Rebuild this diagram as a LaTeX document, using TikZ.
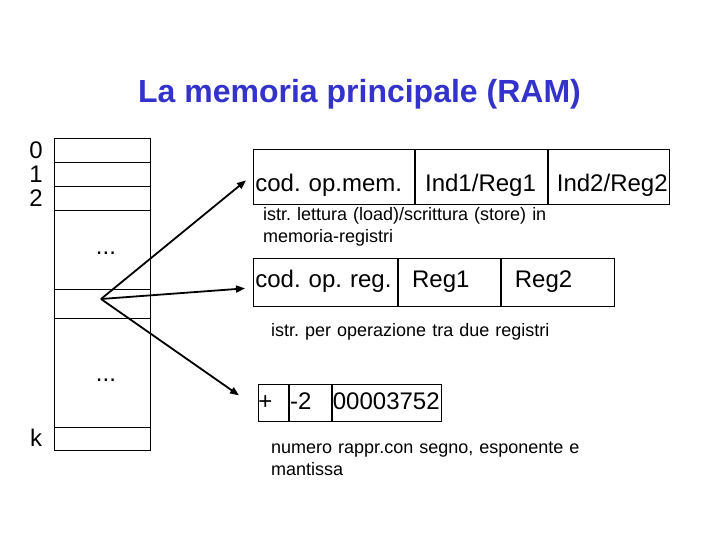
\documentclass[tikz,border=0pt]{standalone}
\usepackage{fontspec}
\setmainfont{Liberation Sans}
\usepackage{xcolor}
\usetikzlibrary{arrows.meta,positioning}
\definecolor{titleblue}{RGB}{51,51,204}
\newcommand{\bigtext}{\fontsize{24bp}{28bp}\selectfont\frenchspacing}
\newcommand{\smalltext}{\fontsize{18bp}{22bp}\selectfont\frenchspacing}
\tikzset{
	field/.style={draw, line width=0.75bp, inner sep=0pt, align=left, font=\bigtext},
	memfield/.style={field, text height=42bp, text depth=13bp},
	regfield/.style={field, text height=29bp, text depth=19bp},
	numfield/.style={field, text height=25bp, text depth=12bp},
	caption/.style={anchor=base west, inner sep=0pt, align=left, text width=330bp, font=\smalltext},
	cellnum/.style={anchor=base, inner sep=0pt, font=\bigtext},
	pointer/.style={-{Triangle[length=9bp,width=7bp]}, line width=1.8bp},
}

\begin{document}
\begin{tikzpicture}[x=1bp,y=-1bp]
		\useasboundingbox (0,0) rectangle (720,540);
		\node (title) [anchor=base, inner sep=0pt, font=\fontsize{32bp}{38bp}\selectfont\bfseries, text=titleblue] at (359.5,103) {La memoria principale (RAM)};
		% memoria
		\draw[line width=0.75bp] (54,138) rectangle (150,450);
		\foreach \y in {162,186,210,289,318,427}
			\draw[line width=0.75bp] (54,\y) -- (150,\y);
		\node (n0) [cellnum] at (36,159) {0};
		\node (n1) [cellnum] at (36,182.7) {1};
		\node (n2) [cellnum] at (36,206.7) {2};
		\node (nk) [cellnum] at (36,446.7) {k};
		\node (dots1) [cellnum] at (106,255) {...};
		\node (dots2) [cellnum] at (106,381) {...};
		\coordinate (src) at (101,299);
		% istruzione memoria-registri
		\node (f11) [memfield, text width=161bp, anchor=north west] at (253,149) {\hspace*{2bp}cod. op.mem.};
		\node (f12) [memfield, text width=132bp, right=0pt of f11] {\hspace*{10bp}Ind1/Reg1};
		\node (f13) [memfield, text width=121bp, right=0pt of f12] {\hspace*{9bp}Ind2/Reg2};
		\node (c1) [caption] at (263,221) {istr. lettura (load)/scrittura (store) in\\memoria-registri};
		% istruzione tra registri
		\node (f21) [regfield, text width=144bp, anchor=north west] at (253,258) {\hspace*{2bp}cod. op. reg.};
		\node (f22) [regfield, text width=102bp, right=0pt of f21] {\hspace*{14bp}Reg1};
		\node (f23) [regfield, text width=113bp, right=0pt of f22] {\hspace*{14bp}Reg2};
		\node (c2) [caption] at (271,336.5) {istr. per operazione tra due registri};
		% numero
		\node (f31) [numfield, text width=30bp, anchor=north west] at (258,384) {+};
		\node (f32) [numfield, text width=42bp, right=0pt of f31] {\hspace*{1bp}-2};
		\node (f33) [numfield, text width=109bp, right=0pt of f32] {\hspace*{1bp}00003752};
		\node (c3) [caption] at (271,453.3) {numero rappr.con segno, esponente e\\mantissa};
		\draw[pointer] (src) -- ([shift={(-7,3.5)}]f11.west);
		\draw[pointer] (src) -- ([shift={(-8,6)}]f21.west);
		\draw[pointer] (src) -- ([shift={(-19,-7.5)}]f31.west);
	\end{tikzpicture}
\end{document}
